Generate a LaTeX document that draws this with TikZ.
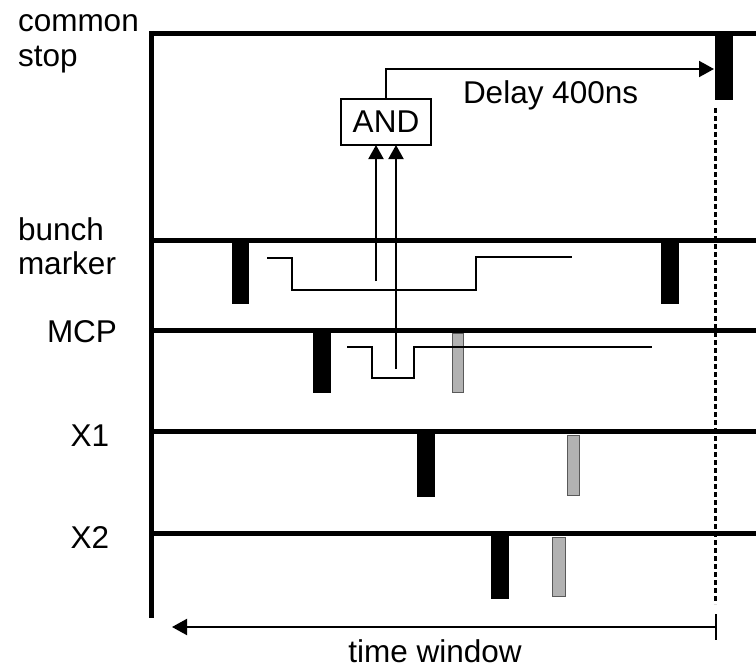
\documentclass[tikz,border=0pt]{standalone}
\usepackage{fontspec}
\setmainfont{Liberation Sans}
\usetikzlibrary{arrows.meta}
\begin{document}
\begin{tikzpicture}[x=1pt,y=-1pt,
  every node/.style={inner sep=0pt,outer sep=0pt,font=\fontsize{31.5}{35}\selectfont},
  trace/.style={line width=5pt},
  pulse/.style={fill=black},
  ghost/.style={fill=black!30,draw=black!65,line width=0.8pt},
  wave/.style={line width=2pt},
  arr/.style={line width=2pt,-{Triangle[length=15pt,width=16pt]}},
  uparr/.style={line width=2pt,-{Triangle[length=14pt,width=15pt]}},
  gatebox/.style={draw,line width=1.6pt,minimum width=90pt,minimum height=46pt},
  marker/.style={line width=3pt,dash pattern=on 5pt off 3pt}]
\useasboundingbox (0,0) rectangle (756,669);
% labels
\node[anchor=base west] (lcommon) at (18,32) {common};
\node[anchor=base west] (lstop) at (18,67) {stop};
\node[anchor=base west] (lbunch) at (18,240) {bunch};
\node[anchor=base west] (lmarker) at (18,274) {marker};
\node[anchor=base] (lmcp) at (82,342) {MCP};
\node[anchor=base] (lx1) at (90,446) {X1};
\node[anchor=base] (lx2) at (90,548) {X2};
% axis and traces
\draw[trace] (151,31) -- (151,618);
\draw[trace] (151,33.5) -- (756,33.5);
\draw[trace] (151,240.5) -- (756,240.5);
\draw[trace] (151,330) -- (756,330);
\draw[trace] (151,431.5) -- (756,431.5);
\draw[trace] (151,533.5) -- (756,533.5);
% black pulses
\fill[pulse] (715,33) rectangle (733,100);
\fill[pulse] (232,240) rectangle (249,304);
\fill[pulse] (661,240) rectangle (679,304);
\fill[pulse] (313,330) rectangle (331,393);
\fill[pulse] (417,431) rectangle (435,497);
\fill[pulse] (491,533) rectangle (509,599);
% grey pulses
\filldraw[ghost] (452,333) rectangle (463,392);
\filldraw[ghost] (567,435) rectangle (579,495);
\filldraw[ghost] (552,537) rectangle (565,596);
% waveforms
\draw[wave] (267,258) -- (292,258) -- (292,290) -- (476,290) -- (476,257) -- (572,257);
\draw[wave] (347,347) -- (372,347) -- (372,378) -- (414,378) -- (414,347) -- (652,347);
% dashed stop marker
\coordinate (dtop) at (715,108);
\coordinate (dbot) at (715,604);
\draw[marker] (dtop) -- (dbot);
% AND gate
\node[gatebox] (and) at (386,122) {AND};
\coordinate (w1) at (376,281);
\coordinate (w2) at (396,369);
\draw[uparr] (w1) -- (w1 |- and.south);
\draw[uparr] (w2) -- (w2 |- and.south);
\coordinate (stoptip) at (714,69);
\draw[arr] (and.north) |- (stoptip);
\node[anchor=base west] (delay) at (463,103) {Delay 400ns};
% time window
\coordinate (tw1) at (716,627);
\coordinate (tw0) at (172,627);
\coordinate (tick1) at (716,614);
\coordinate (tick2) at (716,640);
\draw[line width=2pt] (tick1) -- (tick2);
\draw[arr] (tw1) -- (tw0);
\node[anchor=base] (tw) at (435,662) {time window};
\end{tikzpicture}
\end{document}
